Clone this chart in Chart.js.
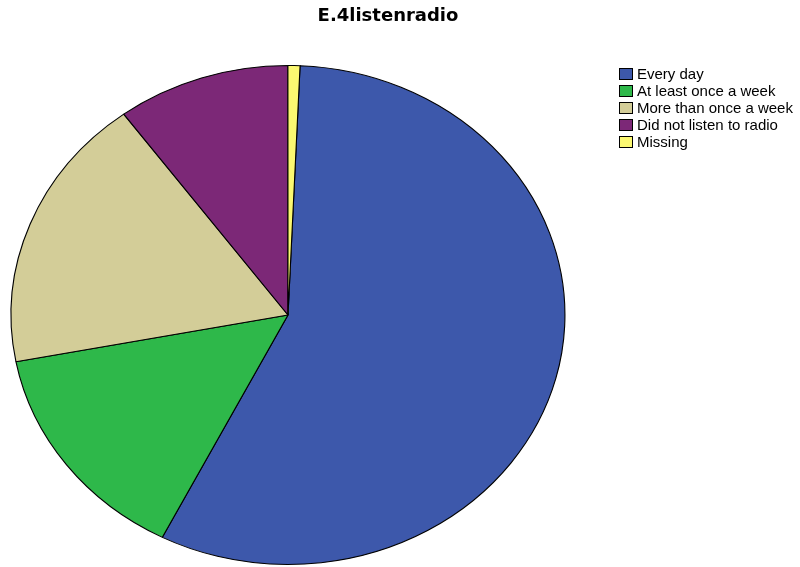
<!DOCTYPE html>
<html>
<head>
<meta charset="utf-8">
<script src="https://cdn.jsdelivr.net/npm/chart.js@4"></script>
<style>
  html, body { margin: 0; padding: 0; background: #fff; }
  #wrap { width: 800px; height: 567px; }
</style>
</head>
<body>
<div id="wrap"><canvas id="radioChart" width="800" height="567"></canvas></div>
<script>
const chartTitle = 'E.4listenradio';
const labels = ['Every day', 'At least once a week', 'More than once a week', 'Did not listen to radio', 'Missing'];
const percents = [56.8, 14.5, 17.9, 10.1, 0.7];
const colors = ['#3d58ab', '#2eb84a', '#d3cd98', '#7c2877', '#fbf871'];

// pie is drawn a bit wider than tall
const stretchX = 1.11;

const ellipsePlugin = {
  id: 'ellipse',
  beforeDatasetsDraw(chart) {
    const arc = chart.getDatasetMeta(0).data[0];
    const ctx = chart.ctx;
    ctx.save();
    ctx.translate(arc.x, arc.y);
    ctx.scale(stretchX, 1);
    ctx.translate(-arc.x, -arc.y);
  },
  afterDatasetsDraw(chart) {
    chart.ctx.restore();
  }
};

// title and legend drawn by hand so they can sit where we want
const decorPlugin = {
  id: 'decor',
  afterDraw(chart) {
    const ctx = chart.ctx;
    ctx.save();
    ctx.fillStyle = '#000';
    ctx.font = 'bold 18px "DejaVu Sans"';
    ctx.textAlign = 'center';
    ctx.textBaseline = 'middle';
    ctx.fillText(chartTitle, 388, 16);

    ctx.font = '15px "Liberation Sans", Arial';
    ctx.textAlign = 'left';
    labels.forEach((label, i) => {
      const y = 74 + i * 17;
      ctx.fillStyle = colors[i];
      ctx.fillRect(619, y - 6, 14, 12);
      ctx.strokeStyle = '#000';
      ctx.lineWidth = 1;
      ctx.strokeRect(619.5, y - 5.5, 13, 11);
      ctx.fillStyle = '#000';
      ctx.fillText(label, 637, y + 1);
    });
    ctx.restore();
  }
};

new Chart(document.getElementById('radioChart'), {
  type: 'pie',
  data: {
    labels: labels,
    datasets: [{
      data: percents,
      backgroundColor: colors,
      borderColor: '#000',
      borderWidth: 1
    }]
  },
  options: {
    responsive: false,
    animation: false,
    rotation: 2.5,
    layout: { padding: { left: 38, right: 262, top: 65, bottom: 2 } },
    plugins: {
      legend: { display: false },
      title: { display: false },
      tooltip: { enabled: false }
    }
  },
  plugins: [ellipsePlugin, decorPlugin]
});
</script>
</body>
</html>
